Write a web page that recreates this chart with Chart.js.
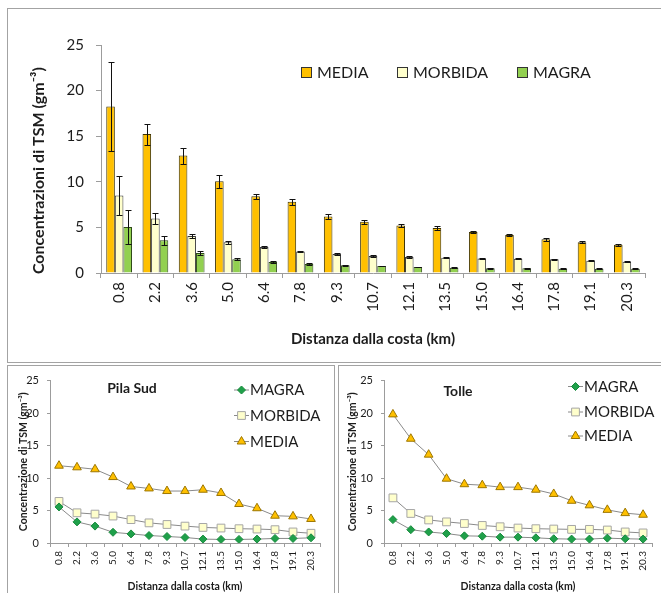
<!DOCTYPE html>
<html>
<head>
<meta charset="utf-8">
<script src="https://cdn.jsdelivr.net/npm/chart.js@4.4.0/dist/chart.umd.min.js"></script>
<style>
body { margin: 0; background: #fff; width: 661px; height: 593px; overflow: hidden; position: relative; font-family: Lato; }
.box { position: absolute; border: 1px solid #a3a3a3; box-sizing: border-box; }
canvas { position: absolute; }
</style>
</head>
<body>
<div class="box" style="left:7px;top:8px;width:670px;height:355px"></div>
<div class="box" style="left:7px;top:365px;width:328px;height:240px"></div>
<div class="box" style="left:338px;top:365px;width:330px;height:240px"></div>
<canvas id="topChart" width="652" height="352" style="left:8px;top:9px"></canvas>
<canvas id="pilaChart" width="326" height="227" style="left:8px;top:366px"></canvas>
<canvas id="tolleChart" width="322" height="227" style="left:339px;top:366px"></canvas>
<script>
// distanze dalla costa (km)
var distanze = ['0.8', '2.2', '3.6', '5.0', '6.4', '7.8', '9.3', '10.7', '12.1', '13.5', '15.0', '16.4', '17.8', '19.1', '20.3'];

// grafico in alto: medie con deviazione
var media    = [18.26, 15.23, 12.88, 10.07, 8.41, 7.8, 6.2, 5.62, 5.22, 4.93, 4.49, 4.16, 3.69, 3.36, 3.1];
var mediaErr = [4.9, 1.15, 0.88, 0.7, 0.3, 0.3, 0.3, 0.2, 0.15, 0.2, 0.15, 0.15, 0.15, 0.1, 0.1];
var morbida    = [8.49, 5.97, 4.06, 3.37, 2.85, 2.37, 2.08, 1.86, 1.75, 1.68, 1.6, 1.57, 1.5, 1.35, 1.24];
var morbidaErr = [2.1, 0.6, 0.25, 0.15, 0.1, 0.08, 0.08, 0.08, 0.06, 0.06, 0.06, 0.06, 0.06, 0.05, 0.05];
var magra    = [5.05, 3.59, 2.2, 1.5, 1.2, 0.99, 0.84, 0.77, 0.66, 0.58, 0.51, 0.51, 0.47, 0.47, 0.47];
var magraErr = [1.9, 0.5, 0.2, 0.1, 0.08, 0.06, 0.05, 0.05, 0.05, 0.04, 0.04, 0.04, 0.04, 0.04, 0.04];

// Pila Sud
var pilaMagra   = [5.55, 3.25, 2.6, 1.65, 1.4, 1.15, 1.0, 0.85, 0.6, 0.55, 0.55, 0.6, 0.7, 0.7, 0.8];
var pilaMorbida = [6.4, 4.65, 4.45, 4.15, 3.6, 3.1, 2.85, 2.6, 2.4, 2.3, 2.2, 2.15, 2.05, 1.7, 1.5];
var pilaMedia   = [11.9, 11.65, 11.35, 10.15, 8.7, 8.4, 8.0, 8.0, 8.2, 7.7, 6.0, 5.35, 4.2, 4.1, 3.7];

// Tolle
var tolleMagra   = [3.6, 2.05, 1.7, 1.45, 1.1, 1.05, 0.9, 0.9, 0.8, 0.65, 0.6, 0.6, 0.75, 0.65, 0.6];
var tolleMorbida = [6.95, 4.55, 3.55, 3.25, 3.0, 2.7, 2.5, 2.3, 2.2, 2.15, 2.1, 2.1, 2.0, 1.7, 1.55];
var tolleMedia   = [19.8, 16.05, 13.6, 9.9, 9.05, 8.9, 8.6, 8.6, 8.2, 7.55, 6.5, 5.8, 5.1, 4.6, 4.35];

var FONT = 'Lato';
var TXT = '#1c1c1c';
var AXIS = '#9c9c9c';

/* barre d'errore sopra le colonne */
var errorBars = {
    id: 'errorBars',
    afterDatasetsDraw: function (chart) {
        var ctx = chart.ctx, ys = chart.scales.y;
        ctx.save();
        ctx.strokeStyle = '#111';
        ctx.lineWidth = 1;
        chart.data.datasets.forEach(function (ds, i) {
            chart.getDatasetMeta(i).data.forEach(function (bar, j) {
                var v = ds.data[j], e = ds.errors[j];
                var x = Math.round(bar.x) + 0.5;
                var y1 = Math.round(ys.getPixelForValue(v + e)) + 0.5;
                var y2 = Math.round(ys.getPixelForValue(v - e)) + 0.5;
                ctx.beginPath();
                ctx.moveTo(x, y1); ctx.lineTo(x, y2);
                ctx.moveTo(x - 3, y1); ctx.lineTo(x + 3, y1);
                ctx.moveTo(x - 3, y2); ctx.lineTo(x + 3, y2);
                ctx.stroke();
            });
        });
        ctx.restore();
    }
};

/* legenda orizzontale con quadratini */
var boxLegend = {
    id: 'boxLegend',
    afterDraw: function (chart, args, opts) {
        if (!opts.xs) return;
        var ctx = chart.ctx;
        ctx.save();
        ctx.font = opts.size + 'px ' + FONT;
        ctx.textBaseline = 'middle';
        chart.data.datasets.forEach(function (ds, i) {
            var x = opts.xs[i], y = opts.y;
            ctx.fillStyle = ds.backgroundColor;
            ctx.fillRect(x, y - 5, 11, 11);
            ctx.strokeStyle = '#333';
            ctx.lineWidth = 1;
            ctx.strokeRect(x + 0.5, y - 4.5, 10, 10);
            ctx.fillStyle = TXT;
            ctx.fillText(ds.label, x + 16, y + 1);
        });
        ctx.restore();
    }
};

/* titolo e legenda verticale dei grafici a linee */
var lineLegend = {
    id: 'lineLegend',
    afterDraw: function (chart, args, opts) {
        if (!opts.ys) return;
        var ctx = chart.ctx;
        ctx.save();
        ctx.fillStyle = TXT;
        ctx.font = 'bold 14px ' + FONT;
        ctx.textAlign = 'center';
        ctx.textBaseline = 'middle';
        ctx.fillText(opts.title, opts.tx, opts.ty);
        ctx.textAlign = 'left';
        ctx.font = '15px ' + FONT;
        chart.data.datasets.forEach(function (ds, i) {
            var x = opts.x, y = opts.ys[i];
            ctx.strokeStyle = ds.borderColor;
            ctx.lineWidth = 1;
            ctx.beginPath();
            ctx.moveTo(x, y + 0.5); ctx.lineTo(x + 15, y + 0.5);
            ctx.stroke();
            ctx.fillStyle = ds.pointBackgroundColor;
            ctx.strokeStyle = ds.pointBorderColor;
            Chart.helpers.drawPoint(ctx, { pointStyle: ds.pointStyle, radius: ds.pointRadius, borderWidth: 1, rotation: 0 }, x + 7.5, y + 0.5);
            ctx.fillStyle = TXT;
            ctx.fillText(ds.label, x + 16, y + 1);
        });
        ctx.restore();
    }
};

new Chart(document.getElementById('topChart'), {
    type: 'bar',
    data: {
        labels: distanze,
        datasets: [
            { label: 'MEDIA', data: media, errors: mediaErr, backgroundColor: '#ffc000', borderColor: '#3d3200', borderWidth: 1 },
            { label: 'MORBIDA', data: morbida, errors: morbidaErr, backgroundColor: '#ffffcc', borderColor: '#3a3a3a', borderWidth: 1 },
            { label: 'MAGRA', data: magra, errors: magraErr, backgroundColor: '#92d050', borderColor: '#2f4a1a', borderWidth: 1 }
        ]
    },
    options: {
        responsive: false,
        animation: false,
        layout: { padding: { top: 36, right: 15, left: 0, bottom: 0 } },
        datasets: { bar: { categoryPercentage: 0.71, barPercentage: 1.0 } },
        plugins: {
            legend: { display: false },
            tooltip: { enabled: false },
            boxLegend: { xs: [293, 389, 509], y: 63, size: 16 }
        },
        scales: {
            x: {
                ticks: { color: TXT, font: { family: FONT, size: 15 }, minRotation: 90, maxRotation: 90, autoSkip: false, padding: 4 },
                grid: { drawOnChartArea: false, tickLength: 5, color: AXIS, offset: true },
                border: { color: AXIS },
                title: { display: true, text: 'Distanza dalla costa (km)', color: TXT, font: { family: FONT, size: 15, weight: 'bold' }, padding: { top: 0, bottom: 13 } },
                afterFit: function (s) { s.height = 88; }
            },
            y: {
                min: 0, max: 25,
                ticks: { stepSize: 5, color: TXT, font: { family: FONT, size: 15 }, padding: 12 },
                grid: { drawOnChartArea: false, tickLength: 5, color: AXIS },
                border: { color: AXIS },
                // spazi finali: spostano il titolo un po' verso il basso come nell'originale
                title: { display: true, text: 'Concentrazioni di TSM (gm\u207B\u00B3)\u00A0\u00A0\u00A0\u00A0\u00A0\u00A0', color: TXT, font: { family: FONT, size: 16, weight: 'bold' }, padding: { top: 21, bottom: 0 } },
                afterFit: function (s) { s.width = 93; }
            }
        }
    },
    plugins: [errorBars, boxLegend]
});

function lineChart(id, titolo, serie, geo) {
    var stili = [
        { label: 'MAGRA', pointStyle: 'rectRot', pointRadius: 4, pointBackgroundColor: '#1fa04a', pointBorderColor: '#178a3c' },
        { label: 'MORBIDA', pointStyle: 'rect', pointRadius: 5.5, pointBackgroundColor: '#ffffcc', pointBorderColor: '#a6a6a6' },
        { label: 'MEDIA', pointStyle: 'triangle', pointRadius: 5, pointBackgroundColor: '#ffc000', pointBorderColor: '#9c7600' }
    ];
    var datasets = serie.map(function (d, i) {
        var s = stili[i];
        return {
            label: s.label, data: d,
            borderColor: '#8a8a8a', borderWidth: 1, fill: false, tension: 0,
            pointStyle: s.pointStyle, pointRadius: s.pointRadius, pointBorderWidth: 1,
            pointBackgroundColor: s.pointBackgroundColor, pointBorderColor: s.pointBorderColor
        };
    });
    new Chart(document.getElementById(id), {
        type: 'line',
        data: { labels: distanze, datasets: datasets },
        options: {
            responsive: false,
            animation: false,
            layout: { padding: { top: geo.top, right: geo.right, left: 0, bottom: 0 } },
            plugins: {
                legend: { display: false },
                tooltip: { enabled: false },
                lineLegend: { title: titolo, tx: geo.tx, ty: geo.ty, x: geo.lx, ys: geo.lys }
            },
            scales: {
                x: {
                    offset: true,
                    ticks: { color: TXT, font: { family: FONT, size: 10 }, minRotation: 90, maxRotation: 90, autoSkip: false, padding: 4 },
                    grid: { drawOnChartArea: false, tickLength: 4, color: AXIS, offset: true },
                    border: { color: AXIS },
                    title: { display: true, text: 'Distanza dalla costa (km)', color: TXT, font: { family: FONT, size: 10.5, weight: 'bold' }, padding: { top: 0, bottom: 0 } },
                    afterFit: function (s) { s.height = 50; }
                },
                y: {
                    min: 0, max: 25,
                    ticks: { stepSize: 5, color: TXT, font: { family: FONT, size: 11 }, padding: 8 },
                    grid: { drawOnChartArea: false, tickLength: 3, color: AXIS },
                    border: { color: AXIS },
                    title: { display: true, text: 'Concentrazione di TSM (gm\u207B\u00B3)', color: TXT, font: { family: FONT, size: 10.5, weight: 'bold' }, padding: { top: geo.ytp, bottom: 0 } },
                    afterFit: function (s) { s.width = geo.yw; }
                }
            }
        },
        plugins: [lineLegend]
    });
}

lineChart('pilaChart', 'Pila Sud', [pilaMagra, pilaMorbida, pilaMedia],
    { top: 9, right: 14, yw: 42, ytp: 9, tx: 124, ty: 22, lx: 226, lys: [23.5, 49, 75] });
lineChart('tolleChart', 'Tolle', [tolleMagra, tolleMorbida, tolleMedia],
    { top: 8, right: 9, yw: 45, ytp: 7, tx: 119, ty: 25, lx: 229, lys: [20, 45.5, 69.5] });
</script>
</body>
</html>
